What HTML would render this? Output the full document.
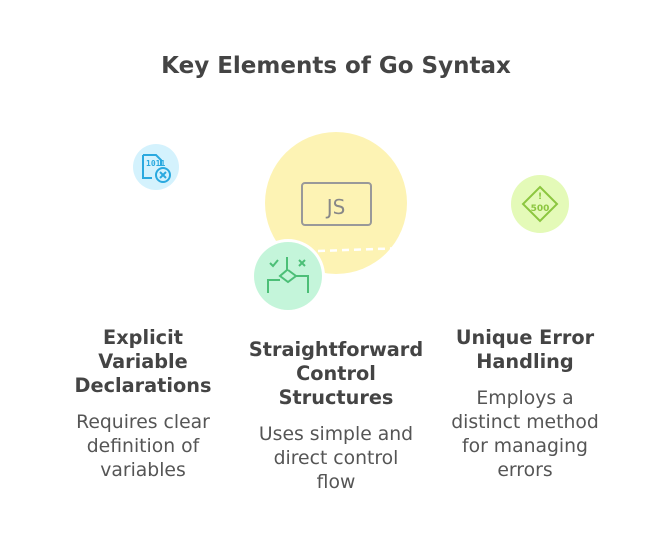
<!DOCTYPE html>
<html><head><style>
body{margin:0;width:672px;height:540px;background:#fff;font-family:"DejaVu Sans",sans-serif;color:#444;position:relative;overflow:hidden}
.t{position:absolute;text-align:center;white-space:nowrap}
h1{position:absolute;top:53px;left:0;width:672px;margin:0;text-align:center;font-size:23px;font-weight:bold;color:#444}
.h{font-weight:bold;font-size:19.3px;line-height:24px}
.b{font-size:18.8px;line-height:24px;color:#555}
</style></head><body>
<h1>Key Elements of Go Syntax</h1>
<svg width="672" height="540" style="position:absolute;left:0;top:0">
<circle cx="336" cy="203" r="71" fill="#fdf3b4"/>
<line x1="318" y1="251" x2="405" y2="248" stroke="#fff" stroke-width="2.5" stroke-dasharray="7 5"/>
<rect x="302" y="183" width="69" height="42" rx="3" fill="none" stroke="#999" stroke-width="2"/>
<text x="336" y="214" text-anchor="middle" font-family="DejaVu Sans" font-size="20" fill="#888">JS</text>
<circle cx="288" cy="276" r="37" fill="#fff"/>
<circle cx="288" cy="276" r="34" fill="#c4f5da"/>
<g stroke="#4cbf77" stroke-width="2" fill="none">
<path d="M270 263l3 3 5-6M299 260l6 6M305 260l-6 6"/>
<path d="M287 257v13l-7 6 8 6 8-6-8-6"/>
<path d="M268 293v-13h12M296 276h12v17"/>
</g>
<circle cx="156" cy="167" r="23" fill="#d4f2fd"/>
<g stroke="#2aa9df" stroke-width="2" fill="none">
<path d="M143 155h13l5 5v6M143 155v23h9"/>
<circle cx="163" cy="175" r="7"/><path d="M160 172l6 6M166 172l-6 6"/>
</g>
<text x="146" y="166" font-size="8" font-weight="bold" fill="#2aa9df" font-family="DejaVu Sans Mono">1011</text>
<circle cx="540" cy="204" r="29" fill="#e4fab8"/>
<path d="M540 187l17 17-17 17-17-17z" fill="none" stroke="#8cc63f" stroke-width="2"/>
<text x="540" y="199" text-anchor="middle" font-size="9" font-weight="bold" fill="#8cc63f">!</text>
<text x="540" y="211" text-anchor="middle" font-size="9" font-weight="bold" fill="#8cc63f">500</text>
</svg>
<div class="t h" style="left:43px;width:200px;top:326px">Explicit<br>Variable<br>Declarations</div>
<div class="t b" style="left:43px;width:200px;top:411px">Requires clear<br>definition of<br>variables</div>
<div class="t h" style="left:236px;width:200px;top:338px">Straightforward<br>Control<br>Structures</div>
<div class="t b" style="left:236px;width:200px;top:423px">Uses simple and<br>direct control<br>flow</div>
<div class="t h" style="left:425px;width:200px;top:326px">Unique Error<br>Handling</div>
<div class="t b" style="left:425px;width:200px;top:387px">Employs a<br>distinct method<br>for managing<br>errors</div>
</body></html>
